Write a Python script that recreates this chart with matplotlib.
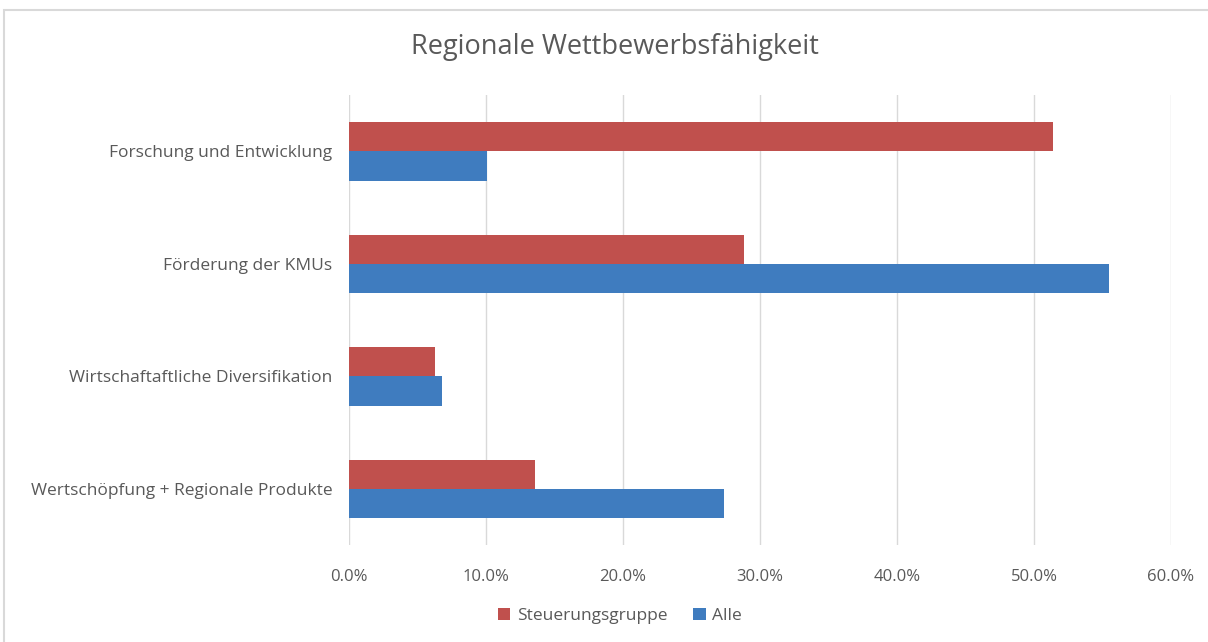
import matplotlib.pyplot as plt
import numpy as np
from matplotlib.patches import Rectangle
from matplotlib.ticker import FuncFormatter

# --- Daten ---
kategorien = [
    "Forschung und Entwicklung",
    "Förderung der KMUs",
    "Wirtschaftaftliche Diversifikation",
    "Wertschöpfung + Regionale Produkte",
]
steuerungsgruppe = [51.4, 28.8, 6.3, 13.6]
alle = [10.1, 55.5, 6.8, 27.4]

ROT = "#C0504D"
BLAU = "#3F7CBF"
TEXT = "#595959"

plt.rcParams['font.family'] = ['Open Sans', 'DejaVu Sans']

fig = plt.figure(figsize=(12.08, 6.42), dpi=100)
ax = fig.add_axes([349 / 1208, 1 - 545 / 642, (1171 - 349) / 1208, 450 / 642])

y = np.arange(len(kategorien))
h = 0.26
ax.barh(y - h / 2, steuerungsgruppe, height=h, color=ROT, label="Steuerungsgruppe", zorder=3)
ax.barh(y + h / 2, alle, height=h, color=BLAU, label="Alle", zorder=3)

ax.set_ylim(len(kategorien) - 0.5, -0.5)
ax.set_xlim(0, 60)
ax.set_xticks(np.arange(0, 61, 10))
ax.xaxis.set_major_formatter(FuncFormatter(lambda v, p: f"{v:.1f}%"))
ax.set_yticks(y)
ax.set_yticklabels(kategorien)
ax.grid(axis='x', color="#D9D9D9", linewidth=1, zorder=0)
for s in ax.spines.values():
    s.set_visible(False)
ax.tick_params(axis='both', length=0, labelcolor=TEXT)
ax.tick_params(axis='x', pad=17, labelsize=12)
ax.tick_params(axis='y', pad=12, labelsize=12.5)

fig.text(615 / 1208, 1 - 47 / 642, "Regionale Wettbewerbsfähigkeit",
         ha='center', va='center', fontsize=19.5, color=TEXT)

fig.legend(loc='center', bbox_to_anchor=(620 / 1208, 1 - 616 / 642), ncol=2,
           frameon=False, fontsize=12.5, handlelength=0.7, handleheight=0.7,
           columnspacing=1.5, handletextpad=0.4, labelcolor=TEXT)

# Rahmen
fig.patches.append(Rectangle((4 / 1208, -0.01), 1.1, 1 - 10 / 642 + 0.01,
                             transform=fig.transFigure, fill=False,
                             edgecolor="#D9D9D9", linewidth=1.5))

fig.savefig("out.png", dpi=100)
